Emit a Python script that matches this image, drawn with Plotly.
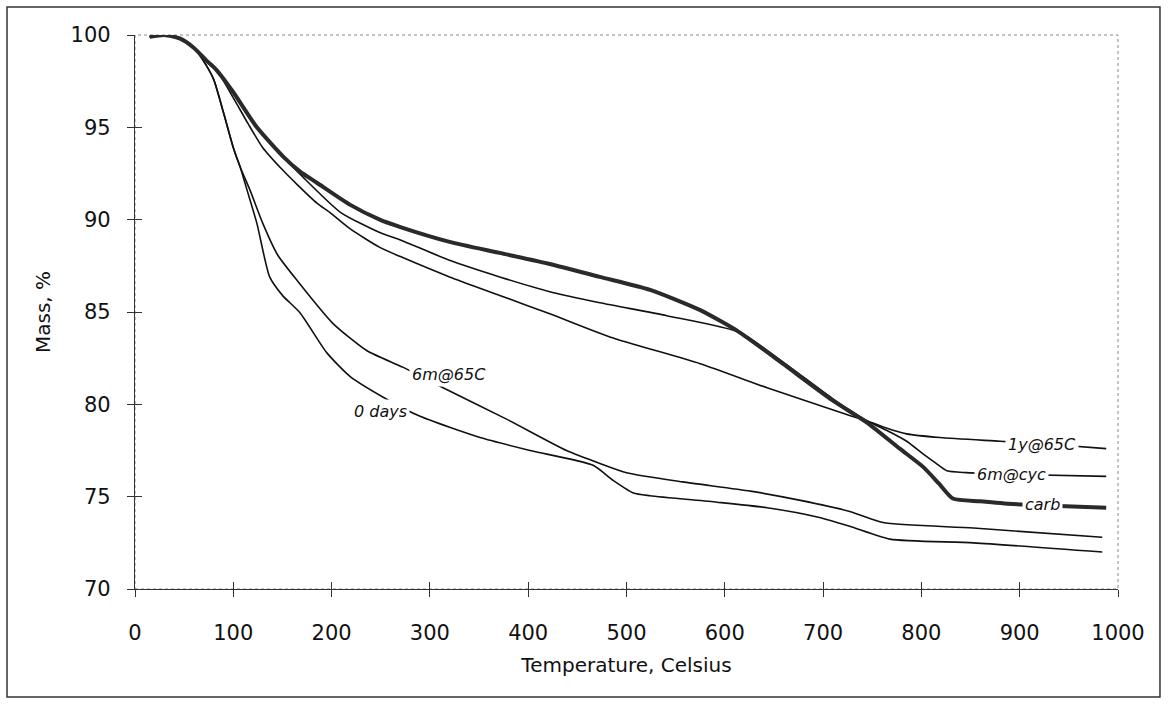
import plotly.graph_objects as go

# ---- data (Temperature in Celsius, Mass in %) ----
T_carb = [15, 30, 46, 60, 73, 83, 100, 124, 151, 168, 185, 219, 249, 270, 320, 371, 422, 473, 524, 575, 615, 659, 710, 745, 778, 802, 818, 832, 860, 893, 940, 988]
M_carb = [99.9, 100.0, 99.8, 99.3, 98.6, 98.1, 96.9, 95.0, 93.4, 92.6, 92.0, 90.8, 90.0, 89.6, 88.8, 88.2, 87.6, 86.9, 86.2, 85.1, 83.9, 82.2, 80.2, 79.0, 77.6, 76.6, 75.7, 74.9, 74.75, 74.6, 74.5, 74.4]

T_6mcyc = [15, 30, 46, 60, 73, 83, 100, 124, 151, 171, 209, 249, 270, 320, 371, 422, 473, 541, 615, 659, 710, 745, 768, 785, 802, 815, 826, 846, 900, 988]
M_6mcyc = [99.9, 100.0, 99.8, 99.3, 98.6, 98.1, 96.9, 95.0, 93.4, 92.3, 90.4, 89.3, 88.9, 87.8, 86.9, 86.1, 85.5, 84.8, 83.9, 82.3, 80.3, 79.1, 78.5, 78.0, 77.3, 76.8, 76.4, 76.3, 76.2, 76.1]

T_1y65 = [15, 30, 46, 60, 73, 83, 100, 115, 130, 150, 165, 185, 198, 219, 249, 270, 320, 371, 422, 483, 575, 643, 727, 745, 765, 785, 819, 880, 940, 988]
M_1y65 = [99.9, 100.0, 99.8, 99.3, 98.6, 98.1, 96.6, 95.2, 93.9, 92.7, 91.9, 90.9, 90.4, 89.5, 88.5, 88.0, 86.9, 85.9, 84.9, 83.65, 82.2, 80.9, 79.4, 79.1, 78.7, 78.4, 78.2, 78.0, 77.8, 77.6]

T_0days = [15, 30, 46, 60, 69, 80, 90, 100, 107, 114, 124, 137, 150, 168, 195, 219, 252, 290, 351, 402, 466, 486, 507, 524, 592, 643, 694, 727, 768, 853, 984]
M_0days = [99.9, 100.0, 99.8, 99.3, 98.65, 97.6, 95.8, 93.9, 92.85, 91.6, 89.8, 86.9, 85.9, 84.95, 82.8, 81.5, 80.4, 79.35, 78.2, 77.5, 76.7, 75.9, 75.2, 75.05, 74.7, 74.4, 73.9, 73.4, 72.7, 72.5, 72.0]

T_6m65 = [15, 30, 46, 60, 69, 80, 90, 100, 107, 117, 130, 145, 165, 201, 236, 273, 317, 378, 439, 473, 500, 557, 626, 677, 727, 761, 853, 984]
M_6m65 = [99.9, 100.0, 99.8, 99.3, 98.65, 97.6, 95.8, 93.9, 92.85, 91.6, 89.8, 88.1, 86.7, 84.4, 82.9, 82.0, 80.8, 79.2, 77.5, 76.8, 76.3, 75.8, 75.3, 74.8, 74.2, 73.6, 73.3, 72.8]

# curve labels: text, T, Mass
lab_text = ["1y@65C", "6m@cyc", "carb", "6m@65C", "0 days"]
lab_T = [923, 892, 923, 319, 250]
lab_M = [77.8, 76.2, 74.55, 81.6, 79.6]

x_ticks = [0, 100, 200, 300, 400, 500, 600, 700, 800, 900, 1000]
y_ticks = [70, 75, 80, 85, 90, 95, 100]

FONT = "DejaVu Sans"
fig = go.Figure()

thin = dict(color="#111111", width=1.6, shape="spline", smoothing=0.6)
for tx, my, name in [(T_0days, M_0days, "0 days"), (T_6m65, M_6m65, "6m@65C"),
                     (T_1y65, M_1y65, "1y@65C"), (T_6mcyc, M_6mcyc, "6m@cyc")]:
    fig.add_trace(go.Scatter(x=tx, y=my, mode="lines", line=thin, name=name,
                             showlegend=False, hoverinfo="skip"))
fig.add_trace(go.Scatter(x=T_carb, y=M_carb, mode="lines", name="carb",
                         line=dict(color="#2a2a2a", width=4, shape="spline", smoothing=0.6),
                         showlegend=False, hoverinfo="skip"))
# invisible trace so the overlay axes (inside tick halves) get drawn
fig.add_trace(go.Scatter(x=T_carb[:1], y=M_carb[:1], xaxis="x2", yaxis="y2", mode="markers",
                         marker=dict(opacity=0), showlegend=False, hoverinfo="skip"))

for t, x, y in zip(lab_text, lab_T, lab_M):
    fig.add_annotation(x=x, y=y, text=t, showarrow=False, bgcolor="white", borderpad=2,
                       font=dict(family=FONT, size=16, color="#111111", style="italic"))

axis_common = dict(showgrid=False, zeroline=False, showline=True, linecolor="#333333",
                   linewidth=1.2, ticks="outside", ticklen=7, tickcolor="#333333", tickwidth=1,
                   tickfont=dict(family=FONT, size=21, color="#111111"))

fig.update_layout(
    width=1169, height=704,
    margin=dict(l=135, r=51, t=35, b=115),
    paper_bgcolor="white", plot_bgcolor="white",
    xaxis=dict(range=[0, 1000], tickvals=x_ticks, ticklabelstandoff=18, **axis_common,
               title=dict(text="Temperature, Celsius", font=dict(family=FONT, size=20, color="#111111"), standoff=13)),
    yaxis=dict(range=[70, 100], tickvals=y_ticks, ticklabelstandoff=12, **axis_common,
               title=dict(text="Mass, %", font=dict(family=FONT, size=20, color="#111111"), standoff=14)),
    xaxis2=dict(range=[0, 1000], tickvals=x_ticks, overlaying="x", anchor="y", showgrid=False,
                zeroline=False, showline=False, ticks="inside", ticklen=7, tickcolor="#333333",
                showticklabels=False),
    yaxis2=dict(range=[70, 100], tickvals=y_ticks, overlaying="y", anchor="x", showgrid=False,
                zeroline=False, showline=False, ticks="inside", ticklen=7, tickcolor="#333333",
                showticklabels=False),
)

# light dotted top/right frame of the plot area
fig.add_shape(type="rect", xref="x domain", yref="y domain", x0=0, x1=1, y0=0, y1=1,
              line=dict(color="#888888", width=1, dash="dot"), layer="below")
# outer border round the whole chart
fig.add_shape(type="rect", xref="paper", yref="paper", x0=-0.1302, x1=1.0427, y0=-0.195, y1=1.0505,
              line=dict(color="#333333", width=1.5))

fig.write_html("out.html")
